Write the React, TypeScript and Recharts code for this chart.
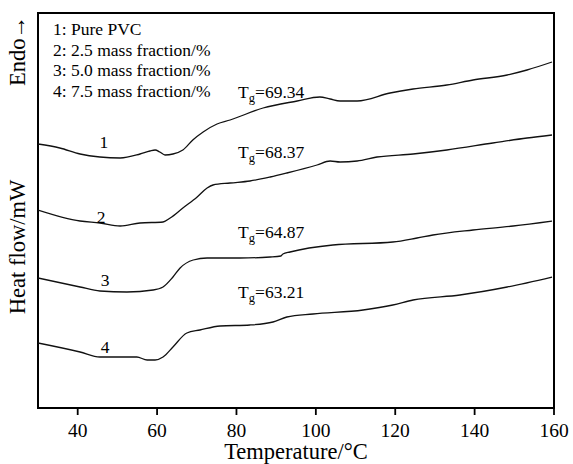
import { LineChart, Line, XAxis, YAxis, ReferenceDot, ReferenceArea, Label, Customized } from "recharts";

const FONT = '"Liberation Serif", "Times New Roman", serif';

// temperature (°C) vs heat flow (arbitrary units, curves offset)
const curve1 = [
  { t: 30, v: 264 }, { t: 35.5, v: 260 }, { t: 40.6, v: 254 }, { t: 45.6, v: 251 },
  { t: 50.7, v: 250 }, { t: 55.7, v: 254 }, { t: 58.2, v: 257 }, { t: 59.5, v: 258 },
  { t: 60.7, v: 256 }, { t: 62, v: 253 }, { t: 64, v: 254 }, { t: 66.5, v: 258 },
  { t: 69, v: 268 }, { t: 71.6, v: 276 }, { t: 75.1, v: 284 }, { t: 78.4, v: 288 },
  { t: 86.7, v: 300 }, { t: 95.3, v: 307 }, { t: 101, v: 311 }, { t: 103.6, v: 309 },
  { t: 106.1, v: 307 }, { t: 110.4, v: 307 }, { t: 118.7, v: 315 }, { t: 124.5, v: 319 },
  { t: 133, v: 323 }, { t: 139.6, v: 328 }, { t: 148.2, v: 333 }, { t: 153.2, v: 338 },
  { t: 159.5, v: 346 },
];

const curve2 = [
  { t: 30, v: 198 }, { t: 40.6, v: 187 }, { t: 45.6, v: 185 }, { t: 50.7, v: 182 },
  { t: 55.7, v: 185 }, { t: 61.5, v: 186 }, { t: 63.3, v: 190 }, { t: 66.5, v: 200 },
  { t: 70.1, v: 211 }, { t: 72.6, v: 220 }, { t: 74.1, v: 223 }, { t: 78.4, v: 225 },
  { t: 83.4, v: 227 }, { t: 88.5, v: 231 }, { t: 92.7, v: 235 }, { t: 100.3, v: 243 },
  { t: 103.6, v: 247 }, { t: 106.1, v: 246 }, { t: 110.4, v: 247 }, { t: 115.4, v: 251 },
  { t: 124.5, v: 254 }, { t: 133, v: 258 }, { t: 144.6, v: 265 }, { t: 153.2, v: 270 },
  { t: 159.5, v: 273 },
];

const curve3 = [
  { t: 30, v: 130 }, { t: 40.6, v: 121 }, { t: 45.6, v: 117 }, { t: 52.4, v: 116 },
  { t: 59, v: 118 }, { t: 61.5, v: 121 }, { t: 64, v: 131 }, { t: 65.8, v: 140 },
  { t: 69.1, v: 148 }, { t: 72.6, v: 150 }, { t: 80.9, v: 150 }, { t: 88.5, v: 151 },
  { t: 91.2, v: 152 }, { t: 91.7, v: 154 }, { t: 93.5, v: 156 }, { t: 104.3, v: 163 },
  { t: 119.4, v: 166 }, { t: 125.5, v: 170 }, { t: 129.5, v: 173 }, { t: 139.6, v: 178 },
  { t: 149.7, v: 182 }, { t: 159.5, v: 187 },
];

const curve4 = [
  { t: 30, v: 65 }, { t: 40.6, v: 56 }, { t: 45.6, v: 51 }, { t: 52.4, v: 51 },
  { t: 54.9, v: 51 }, { t: 57.5, v: 48 }, { t: 59.5, v: 48 }, { t: 61.5, v: 51 },
  { t: 64, v: 61 }, { t: 67.5, v: 75 }, { t: 70.8, v: 78 }, { t: 75.9, v: 82 },
  { t: 83.4, v: 83 }, { t: 89.2, v: 86 }, { t: 92.7, v: 91 }, { t: 99.3, v: 94 },
  { t: 111.9, v: 98 }, { t: 119.4, v: 103 }, { t: 124.5, v: 108 }, { t: 136.3, v: 113 },
  { t: 148.2, v: 121 }, { t: 159.5, v: 131 },
];

const series = [curve1, curve2, curve3, curve4];

const xTicks = [40, 60, 80, 100, 120, 140, 160];

const legendLines = [
  "1: Pure PVC",
  "2: 2.5 mass fraction/%",
  "3: 5.0 mass fraction/%",
  "4: 7.5 mass fraction/%",
];

// curve number tags
const curveTags = [
  { t: 46.6, v: 260, text: "1" },
  { t: 45.9, v: 185, text: "2" },
  { t: 46.9, v: 122, text: "3" },
  { t: 46.9, v: 55, text: "4" },
];

// glass transition labels
const tgLabels = [
  { t: 80.4, v: 310, value: "69.34" },
  { t: 80.4, v: 250, value: "68.37" },
  { t: 80.4, v: 170, value: "64.87" },
  { t: 80.4, v: 110, value: "63.21" },
];

const txt = { fontFamily: FONT, fill: "#000" };

const TagText = ({ viewBox, text }: any) => {
  const cx = viewBox.x + viewBox.width / 2;
  const cy = viewBox.y + viewBox.height / 2;
  return (
    <text x={cx} y={cy} textAnchor="middle" style={{ ...txt, fontSize: 17.5 }}>
      {text}
    </text>
  );
};

const TgText = ({ viewBox, value }: any) => {
  const x = viewBox.x + viewBox.width / 2;
  const y = viewBox.y + viewBox.height / 2;
  return (
    <text x={x} y={y} style={{ ...txt, fontSize: 17.5 }}>
      <tspan>T</tspan>
      <tspan style={{ fontSize: 12.5 }} dy={4}>g</tspan>
      <tspan dy={-4}>={value}</tspan>
    </text>
  );
};

const Extras = () => (
  <g>
    {legendLines.map((s, i) => (
      <text key={s} x={53} y={35 + i * 20.5} style={{ ...txt, fontSize: 17.5 }}>
        {s}
      </text>
    ))}
    <text x={25} y={51} textAnchor="middle" transform="rotate(-90 25 51)" style={{ ...txt, fontSize: 22.5 }}>
      Endo→
    </text>
    <text x={25} y={247} textAnchor="middle" transform="rotate(-90 25 247)" style={{ ...txt, fontSize: 22.5 }}>
      Heat flow/mW
    </text>
  </g>
);

export default function App() {
  return (
    <div style={{ position: "absolute", left: 0, top: 0, background: "#fff" }}>
      <LineChart width={573} height={464} margin={{ top: 13, right: 19, bottom: 0, left: 38 }}>
        <XAxis
          type="number"
          dataKey="t"
          domain={[30, 160]}
          ticks={xTicks}
          allowDataOverflow
          height={56}
          tickSize={7}
          tickMargin={8}
          axisLine={{ stroke: "#000", strokeWidth: 2 }}
          tickLine={{ stroke: "#000", strokeWidth: 1.8 }}
          tick={{ fontSize: 19.5, fill: "#000", fontFamily: FONT }}
        >
          <Label
            value="Temperature/°C"
            position="insideBottom"
            offset={5}
            style={{ fontSize: 22.5, fill: "#000", fontFamily: FONT }}
          />
        </XAxis>
        <YAxis type="number" domain={[0, 395]} allowDataOverflow hide />
        {/* plot frame */}
        <ReferenceArea
          x1={30}
          x2={160}
          y1={0}
          y2={395}
          fill="none"
          fillOpacity={0}
          stroke="#000"
          strokeWidth={2}
          ifOverflow="visible"
        />
        {series.map((d, i) => (
          <Line
            key={i}
            data={d}
            dataKey="v"
            type="monotone"
            stroke="#111"
            strokeWidth={1.3}
            dot={false}
            activeDot={false}
            isAnimationActive={false}
          />
        ))}
        {curveTags.map((c) => (
          <ReferenceDot
            key={c.text}
            x={c.t}
            y={c.v}
            r={1}
            fill="none"
            stroke="none"
            ifOverflow="visible"
            label={<TagText text={c.text} />}
          />
        ))}
        {tgLabels.map((c) => (
          <ReferenceDot
            key={c.value}
            x={c.t}
            y={c.v}
            r={1}
            fill="none"
            stroke="none"
            ifOverflow="visible"
            label={<TgText value={c.value} />}
          />
        ))}
        <Customized component={<Extras />} />
      </LineChart>
    </div>
  );
}
